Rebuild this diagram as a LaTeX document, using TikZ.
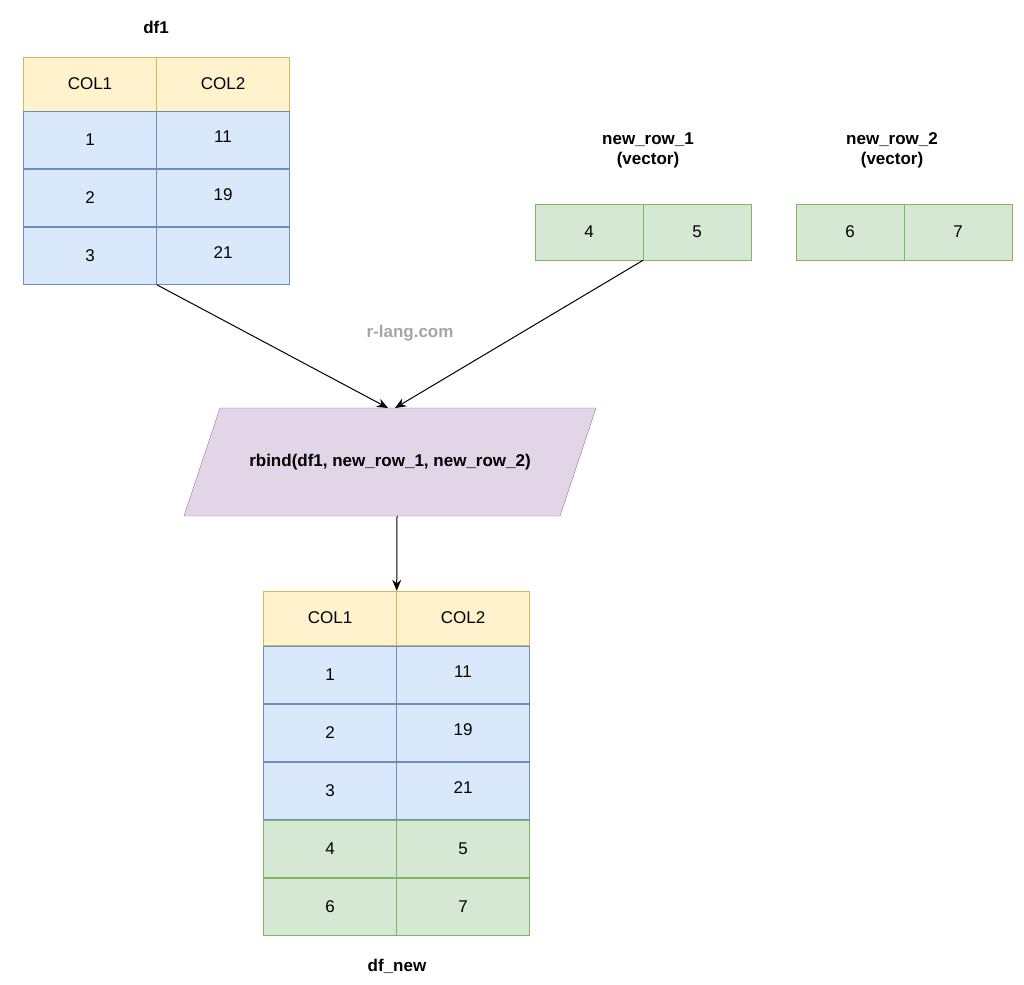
\documentclass[tikz,border=0pt]{standalone}
\usepackage{fontspec}
\setmainfont{Liberation Sans}
\usetikzlibrary{arrows.meta}
\definecolor{hdfill}{HTML}{FFF2CC}\definecolor{hdline}{HTML}{D6B656}
\definecolor{blfill}{HTML}{DAE8FC}\definecolor{blline}{HTML}{6C8EBF}
\definecolor{grfill}{HTML}{D5E8D4}\definecolor{grline}{HTML}{82B366}
\definecolor{pufill}{HTML}{E1D5E7}\definecolor{puline}{HTML}{9673A6}
\tikzset{
  cell/.style={draw, inner sep=0, minimum width=133pt, minimum height=57pt, font=\fontsize{17}{20}\selectfont},
  head/.style={cell, fill=hdfill, draw=hdline, minimum height=54pt},
  blue/.style={cell, fill=blfill, draw=blline},
  green/.style={cell, fill=grfill, draw=grline},
  vec/.style={cell, fill=grfill, draw=grline, minimum width=108pt, minimum height=56pt},
  title/.style={font=\bfseries\fontsize{17}{20}\selectfont, align=center},
  link/.style={-{Stealth[length=11pt,width=9pt]}, line width=1pt}
}
\begin{document}
\begin{tikzpicture}[x=1pt,y=-1pt]
    \useasboundingbox (0,0) rectangle (1024,984);

    % df1
    \node[title] (t1) at (156,27) {df1};
    \node[head] (h11) at (90,84) {COL1};
    \node[head] (h12) at (223,84) {COL2};
    \foreach \a/\b [count=\i] in {1/11,2/19,3/21} {
      \node[blue] (a\i) at (90,82+58*\i) {\a};
      \node[blue] (b\i) at (223,82+58*\i) {\raisebox{6pt}{\b}};
    }

    % vectors
    \node[title] (t2) at (648,150) {new\_row\_1\\(vector)};
    \node[vec] (v1) at (589,232) {4};
    \node[vec] (v2) at (697,232) {5};
    \node[title] (t3) at (892,150) {new\_row\_2\\(vector)};
    \node[vec] (w1) at (850,232) {6};
    \node[vec] (w2) at (958,232) {7};

    \node[font=\bfseries\fontsize{17}{20}\selectfont, text=gray!70] (wm) at (410,333) {r-lang.com};

    % rbind
    \draw[fill=pufill, draw=puline] (220,408) -- (596,408) -- (560,516) -- (184,516) -- cycle;
    \node[title] (rb) at (390,462) {rbind(df1, new\_row\_1, new\_row\_2)};
    \coordinate (in1) at (388,408);
    \coordinate (in2) at (395,408);
    \coordinate (out) at (397,516);

    % df_new
    \node[head] (h21) at (330,618) {COL1};
    \node[head] (h22) at (463,618) {COL2};
    \foreach \a/\b/\s [count=\i] in {1/11/blue,2/19/blue,3/21/blue,4/5/green,6/7/green} {
      \node[\s] (c\i) at (330,617+58*\i) {\a};
      \node[\s] (d\i) at (463,617+58*\i) {\ifnum\i<4 \raisebox{6pt}{\b}\else\b\fi};
    }
    \node[title] (t4) at (397,966) {df\_new};

    % arrows
    \draw[link] (a3.south east) -- (in1);
    \draw[link] (v1.south east) -- (in2);
    \draw[link] (out) -- (c1.north east |- h21.north);
\end{tikzpicture}
\end{document}
